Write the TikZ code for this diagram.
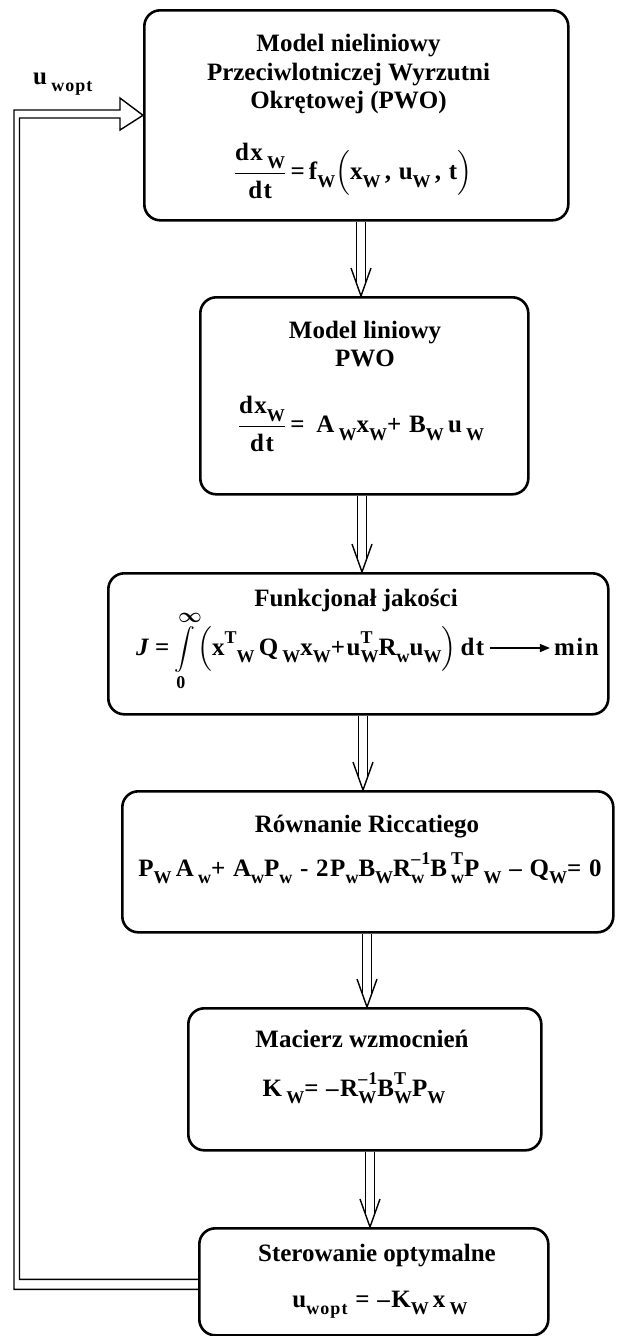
\documentclass[tikz,border=0pt]{standalone}
\usepackage{amsmath}
\usepackage{fontspec}
\setmainfont{Liberation Serif}
\newfontfamily\fmlfont{Liberation Serif}[LetterSpace=6]
\usetikzlibrary{arrows.meta}

% lowered / raised indices set in a smaller size
\newcommand{\lo}[1]{\raisebox{-0.3em}{\fontsize{18}{18}\selectfont #1}}
\newcommand{\hi}[1]{\raisebox{0.45em}{\fontsize{18}{18}\selectfont #1}}
% index and exponent stacked, as wide as the wider one
\newsavebox{\supbx}\newsavebox{\subbx}
\newcommand{\lohi}[2]{\sbox{\supbx}{\hi{#2}}\sbox{\subbx}{\lo{#1}}%
  \ifdim\wd\supbx>\wd\subbx\relax\rlap{\usebox{\subbx}}\usebox{\supbx}%
  \else\rlap{\usebox{\supbx}}\usebox{\subbx}\fi}
% fraction with a heavy rule
\newcommand{\dfr}[2]{$\genfrac{}{}{1.4pt}{0}{\mbox{#1}}{\mbox{#2}}$}
% integral from 0 to infinity
\newcommand{\intinf}{{\fontsize{21}{23}\selectfont$\displaystyle\int\limits_{\mbox{\fontsize{18}{18}\selectfont 0}}^{\mbox{\fontsize{20}{20}\selectfont$\infty$}}$}}

% double-line arrow with an open V head: name, x, from node, to node
\newcommand{\flowarrow}[4]{%
  \coordinate (#1) at (#2,0);
  \coordinate (#1-s) at (#3.south -| #1);
  \coordinate (#1-e) at (#4.north -| #1);
  \draw[link] ([xshift=-4.5pt]#1-s) -- ([xshift=-4.5pt,yshift=12.6pt]#1-e);
  \draw[link] ([xshift=4.5pt]#1-s) -- ([xshift=4.5pt,yshift=12.6pt]#1-e);
  \draw[link] ([xshift=-10pt,yshift=28pt]#1-e) -- (#1-e) -- ([xshift=10pt,yshift=28pt]#1-e);
}

\begin{document}
\begin{tikzpicture}[x=1pt, y=-1pt,
  box/.style={draw, line width=2.6pt, rounded corners=16pt, inner sep=0pt, anchor=north west},
  txt/.style={font=\bfseries\boldmath\fontsize{25}{28.5}\selectfont, align=center, inner sep=0pt},
  fml/.style={font=\fmlfont\bfseries\boldmath\fontsize{25}{28}\selectfont, align=center, inner sep=0pt},
  link/.style={line width=1.4pt, line join=miter}]
\useasboundingbox (0,0) rectangle (618,1336);

% blocks
\node[box, minimum width=424pt, minimum height=210pt] (b1) at (143,9) {};
\node[box, minimum width=328pt, minimum height=197pt] (b2) at (199,296) {};
\node[box, minimum width=500pt, minimum height=141pt] (b3) at (107,572) {};
\node[box, minimum width=491pt, minimum height=141pt] (b4) at (121,790) {};
\node[box, minimum width=353pt, minimum height=142pt] (b5) at (187,1007) {};
\node[box, minimum width=349pt, minimum height=107pt] (b6) at (198,1227) {};

% texts
\node[txt] (t1) at (348.5,74) {Model nieliniowy\\Przeciwlotniczej Wyrzutni\\Okrętowej (PWO)};
\node[fml] (f1) at (353,171) {\dfr{dx\,\lo{W}}{dt}\,=\,f\lo{W}$\Bigl($x\lo{W}\,, u\lo{W}\,, t$\Bigr)$};

\node[txt] (t2) at (365,344) {Model liniowy\\PWO};
\node[fml] (f2) at (361,424) {\dfr{dx\lo{W}}{dt}\,=\, A\,\lo{W}x\lo{W}+ B\lo{W}\,u\,\lo{W}};

\node[txt] (t3) at (356,600) {Funkcjonał jakości};
\node[fml, anchor=base west] (f3) at (136,655) {\textit{J}\,=\,\intinf$\Bigl($x\hi{T}\lo{W}\,Q\,\lo{W}x\lo{W}+u\lohi{W}{T}R\lo{w}u\lo{W}$\Bigr)$\,dt};
\node[fml, anchor=base east] (m3) at (599,655) {min};
\draw[line width=1.4pt, -{Triangle[length=10pt,width=8pt]}] ([xshift=5pt,yshift=7pt]f3.base east) -- ([xshift=-4pt,yshift=7pt]m3.base west);

\node[txt] (t4) at (367,827) {Równanie Riccatiego};
\node[fml, anchor=base] (f4) at (370,876) {P\lo{W}\,A\,\lo{w}+ A\lo{w}P\lo{w} - 2P\lo{w}B\lo{W}R\lohi{w}{–1}B\,\lohi{w}{T}P\,\lo{W} – Q\lo{W}= 0};

\node[txt] (t5) at (362,1039) {Macierz wzmocnień};
\node[fml, anchor=base] (f5) at (354,1096) {K\,\lo{W}= –R\lohi{W}{–1}B\lohi{W}{T}P\lo{W}};

\node[txt] (t6) at (377,1256) {Sterowanie optymalne};
\node[fml, anchor=base] (f6) at (380,1307) {u\lo{wopt} = –K\lo{W}\,x\,\lo{W}};

\node[fml, anchor=base west] (lab) at (33,84) {u\,\lo{wopt}};

% forward chain
\flowarrow{a1}{361}{b1}{b2}
\flowarrow{a2}{362}{b2}{b3}
\flowarrow{a3}{363}{b3}{b4}
\flowarrow{a4}{367}{b4}{b5}
\flowarrow{a5}{370}{b5}{b6}

% feedback of the optimal control to the nonlinear model
\draw[link] ([yshift=-7.5pt]b6.west) -| (14,110) -- (120,110) -- (120,98) -- (b1.west)
  -- (120,130) -- (120,118) -- (19.5,118) |- ([yshift=2.5pt]b6.west);
\end{tikzpicture}
\end{document}
